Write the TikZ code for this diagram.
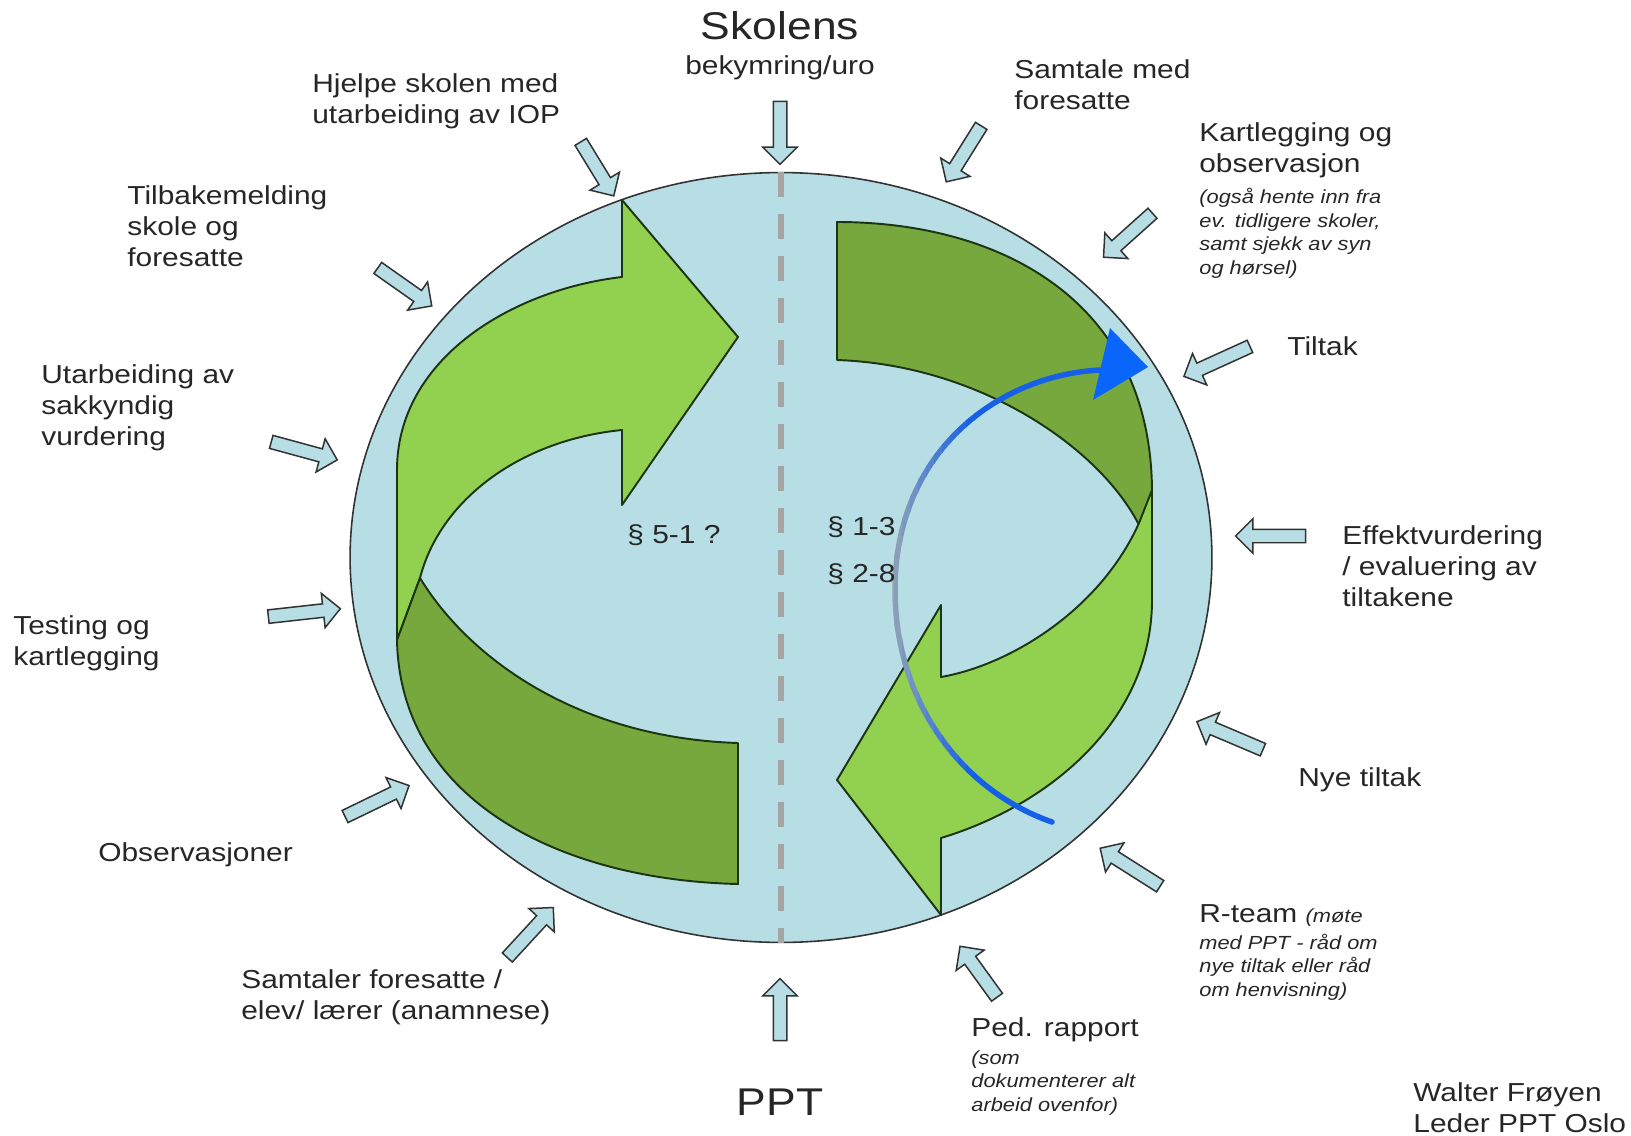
\documentclass[tikz,border=0pt]{standalone}
\usepackage{fontspec}
\setmainfont{Liberation Sans}[FakeStretch=1.15]
\usetikzlibrary{positioning, calc, shapes.geometric, shapes.arrows}
\definecolor{discblue}{RGB}{183,222,228}
\definecolor{lightgreen}{RGB}{146,208,80}
\definecolor{darkgreen}{RGB}{119,168,61}
\definecolor{rimgreen}{RGB}{28,52,18}
\definecolor{rimgray}{RGB}{50,50,50}
\definecolor{dashgray}{RGB}{165,165,165}
\definecolor{textgray}{RGB}{38,38,38}
\definecolor{arcblue}{RGB}{22,96,232}
\definecolor{arcgray}{RGB}{150,166,178}
\definecolor{tipblue}{RGB}{10,102,250}
\tikzset{
note/.style={anchor=north west, align=left, inner sep=0pt, text=textgray, font=\fontsize{14.8}{17.6}\selectfont}, % ordinary label text
aside/.style={anchor=north west, align=left, inner sep=0pt, text=textgray, font=\fontsize{10.8}{13.4}\selectfont\itshape}, % small italic remarks
heading/.style={anchor=base, inner sep=0pt, text=textgray, font=\fontsize{22}{26}\selectfont}, % Skolens and PPT
pointer/.style={single arrow, draw=rimgray, fill=discblue, line width=0.85pt, inner xsep=0pt, inner ysep=0.12cm, single arrow head extend=0.21cm}, % small block arrows round the disc
ribbon/.style={draw=rimgreen, line width=1.1pt, line join=round}, % the green circular arrows
divider/.style={draw=dashgray, line width=0.11cm, dash pattern=on 0.5cm off 0.34cm}, % line between school and PPT
loopline/.style={line width=0.11cm, line cap=round}, % the blue turning arrow
}
\newcommand{\remark}[1]{{\fontsize{10.8}{13.4}\selectfont\itshape #1}}
\newcommand{\pointat}[2]{%
  \path let \p1=($(#2)-(#1)$), \n1={atan2(\y1,\x1)}, \n2={veclen(\x1,\y1)} in
    node[pointer, rotate=\n1, minimum height=\n2] at ($(#1)!0.5!(#2)$) {};}
\newcommand{\looppath}{(foot) .. controls (960,790) and (895,700) .. (895,590) .. controls (895,450) and (1000,375) .. (neck)}

\begin{document}
\begin{tikzpicture}[x=0.02cm, y=-0.02cm]
\useasboundingbox (0,0) rectangle (1631,1135);

% the disc
\node[ellipse, draw=rimgray, fill=discblue, line width=0.9pt, minimum width=17.24cm, minimum height=15.4cm, inner sep=0pt] (disc) at (781,557.5) {};
\draw[divider] (disc.north) -- (disc.south);

% left pair of arrows
\draw[ribbon, fill=lightgreen] (397,640) -- (397,470) .. controls (397,360) and (510,290) .. (622,277) -- (622,200) -- (738,337) -- (622,505) -- (622,430) .. controls (520,440) and (440,500) .. (420,578) -- cycle;
\draw[ribbon, fill=darkgreen] (420,578) .. controls (470,660) and (580,738) .. (738,743) -- (738,884) .. controls (560,880) and (400,800) .. (397,640) -- cycle;
% right pair of arrows
\draw[ribbon, fill=darkgreen] (837,222) .. controls (1000,222) and (1152,300) .. (1152,493) -- (1139,525) .. controls (1100,448) and (980,365) .. (837,360) -- cycle;
\draw[ribbon, fill=lightgreen] (1139,523) -- (1152,490) -- (1152,600) .. controls (1152,720) and (1050,805) .. (941,838) -- (941,915) -- (837,780) -- (941,605) -- (941,677) .. controls (1010,665) and (1100,610) .. (1139,523) -- cycle;

% blue turning arrow, grey in the middle
\coordinate (foot) at (1052,822);
\coordinate (neck) at (1100,370);
\coordinate (tip) at (1148,367);
\foreach \i in {0,...,10}{
  \pgfmathtruncatemacro\mix{10*\i}
  \begin{scope}
    \clip (886+8*\i,300) rectangle (895+8*\i,860);
    \draw[loopline, draw=arcblue!\mix!arcgray] \looppath;
  \end{scope}
}
\begin{scope}
  \clip (974,300) rectangle (1200,860);
  \draw[loopline, draw=arcblue] \looppath;
\end{scope}
\fill[tipblue] (tip) -- (1110,328) -- (1093,400) -- cycle;

% small arrows pointing at the disc
\foreach \a/\b/\c/\d in {579/139/612/193, 375/266/429/304, 268/441/334/459, 265/617/337/609,
  342/818/406/787, 505/960/551/910, 780/1044/780/982, 780/98/780/161, 983/123/948/179,
  1155/211/1106/255, 1253/345/1187/375, 1309/536/1239/536, 1266/751/1200/723,
  1163/888/1103/850, 999/1000/962/949}
  {\pointat{\a,\b}{\c,\d}}

% texts
\node[heading] (skole) at (780,40) {Skolens};
\node[note, anchor=base] (uro) at (780,75) {bekymring/uro};
\node[heading] (ppt) at (780,1115) {PPT};
\node[note] (iop) at (312,73) {Hjelpe skolen med\\utarbeiding av IOP};
\node[note] (tilbake) at (127,185) {Tilbakemelding\\skole og\\foresatte};
\node[note] (sakkyndig) at (41,364) {Utarbeiding av\\sakkyndig\\vurdering};
\node[note] (testing) at (13,615) {Testing og\\kartlegging};
\node[note] (obs) at (98,842) {Observasjoner};
\node[note] (samtaler) at (241,969) {Samtaler foresatte /\\elev/ lærer (anamnese)};
\node[note] (samtale) at (1014,59) {Samtale med\\foresatte};
\node[note] (kart) at (1199,122) {Kartlegging og\\observasjon};
\node[aside, below=0.2cm of kart.south west, anchor=north west] (kartnote) {(også hente inn fra\\ev. tidligere skoler,\\samt sjekk av syn\\og hørsel)};
\node[note] (tiltak) at (1287,336) {Tiltak};
\node[note] (effekt) at (1342,525) {Effektvurdering\\/ evaluering av\\tiltakene};
\node[note] (nye) at (1298,767) {Nye tiltak};
\node[note] (rteam) at (1199,904) {R-team \remark{(møte}};
\node[aside, below=0.14cm of rteam.south west, anchor=north west] (rnote) {med PPT - råd om\\nye tiltak eller råd\\om henvisning)};
\node[note] (ped) at (971,1017) {Ped. rapport};
\node[aside, below=0.16cm of ped.south west, anchor=north west] (pednote) {(som\\dokumenterer alt\\arbeid ovenfor)};
\node[note] (walter) at (1413,1082) {Walter Frøyen\\Leder PPT Oslo};
\node[note, anchor=base west] (p51) at (627,543) {§ 5-1 ?};
\node[note, anchor=base west] (p13) at (827,535) {§ 1-3};
\node[note, anchor=base west] (p28) at (827,582) {§ 2-8};
\end{tikzpicture}
\end{document}
